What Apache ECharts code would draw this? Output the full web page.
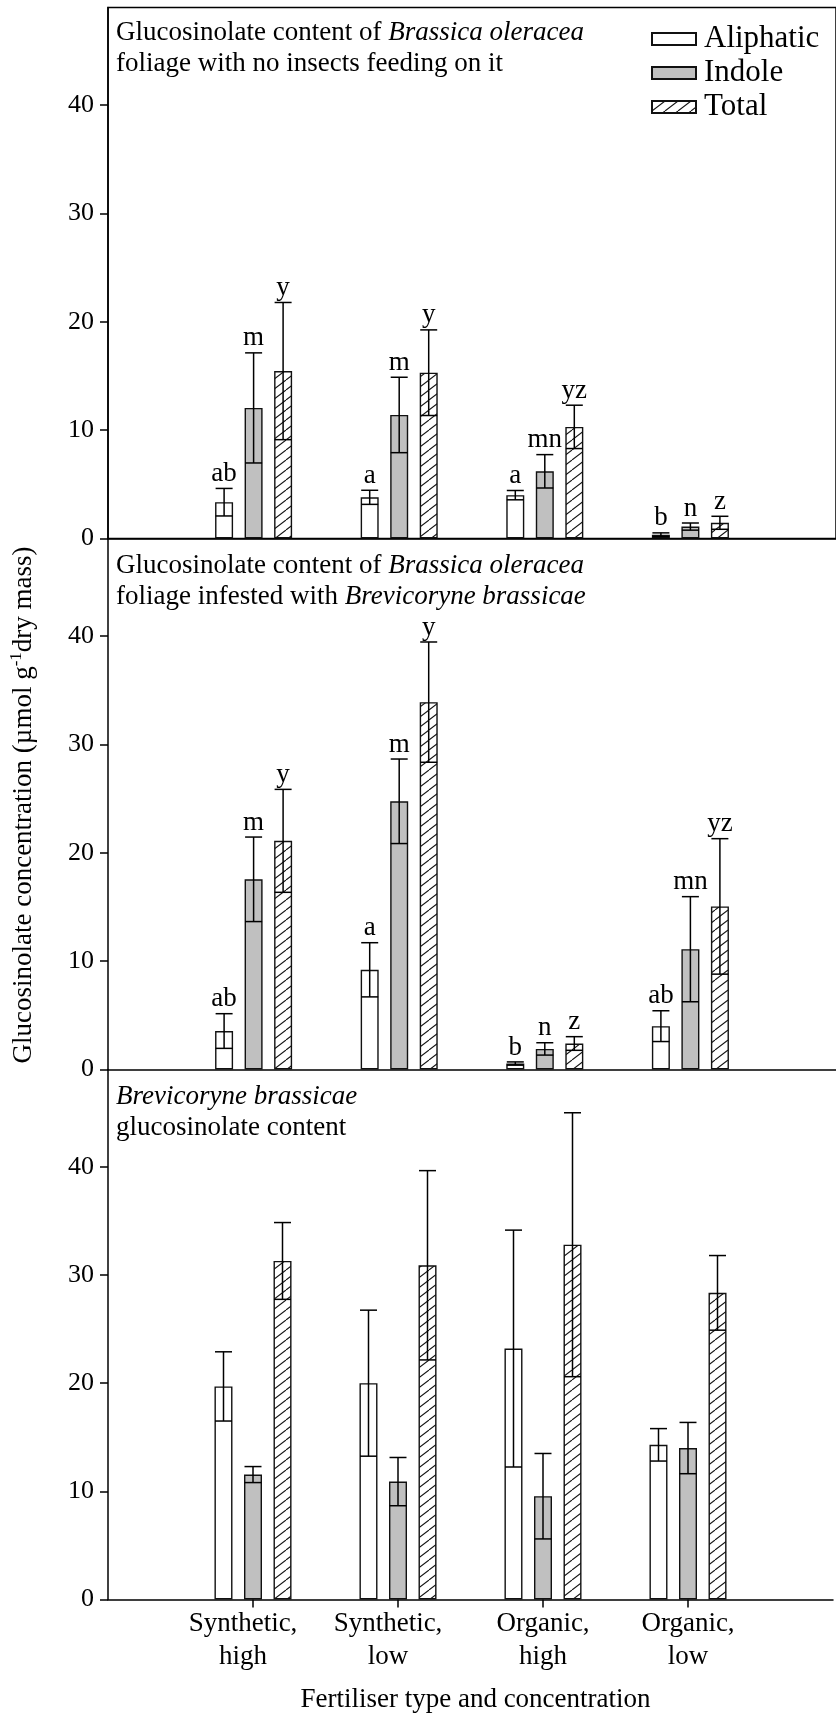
<!DOCTYPE html>
<html>
<head>
<meta charset="utf-8">
<script src="https://cdn.jsdelivr.net/npm/echarts@6.0.0/dist/echarts.min.js"></script>
<style>
  html, body { margin: 0; padding: 0; background: #fff; }
  #chart { width: 836px; height: 1717px; }
</style>
</head>
<body>
<div id="chart"></div>
<script>
// categories and tick labels
const categories = ['Synthetic,\nhigh', 'Synthetic,\nlow', 'Organic,\nhigh', 'Organic,\nlow']
const yTicks = [0, 10, 20, 30, 40]
const typeNames = ['Aliphatic', 'Indole', 'Total']

// panel 1: foliage with no insects
const noInsectAliphatic = [3.35, 3.8, 4.0, 0.35]
const noInsectAliphaticErr = [1.27, 0.65, 0.43, 0.17]
const noInsectIndole = [12.05, 11.4, 6.2, 1.1]
const noInsectIndoleErr = [5.08, 3.48, 1.54, 0.33]
const noInsectTotal = [15.45, 15.3, 10.3, 1.45]
const noInsectTotalErr = [6.33, 3.95, 2.0, 0.6]
const noInsectAliphaticLetters = ['ab', 'a', 'a', 'b']
const noInsectIndoleLetters = ['m', 'm', 'mn', 'n']
const noInsectTotalLetters = ['y', 'y', 'yz', 'z']

// panel 2: foliage infested with B. brassicae
const infestedAliphatic = [3.55, 9.2, 0.55, 4.0]
const infestedAliphaticErr = [1.6, 2.5, 0.15, 1.42]
const infestedIndole = [17.55, 24.75, 1.9, 11.1]
const infestedIndoleErr = [3.9, 3.9, 0.57, 4.85]
const infestedTotal = [21.1, 33.9, 2.4, 15.05]
const infestedTotalErr = [4.75, 5.55, 0.63, 6.25]
const infestedAliphaticLetters = ['ab', 'a', 'b', 'ab']
const infestedIndoleLetters = ['m', 'm', 'n', 'mn']
const infestedTotalLetters = ['y', 'y', 'z', 'yz']

// panel 3: B. brassicae glucosinolate content
const aphidAliphatic = [19.7, 20.0, 23.2, 14.3]
const aphidAliphaticErr = [3.2, 6.75, 10.95, 1.5]
const aphidIndole = [11.55, 10.9, 9.55, 14.0]
const aphidIndoleErr = [0.74, 2.23, 3.95, 2.37]
const aphidTotal = [31.3, 30.9, 32.8, 28.35]
const aphidTotalErr = [3.55, 8.75, 12.2, 3.45]

const FONT = '"Liberation Serif", "Times New Roman", serif'

const panels = [
  {
    values: [noInsectAliphatic, noInsectIndole, noInsectTotal],
    errs: [noInsectAliphaticErr, noInsectIndoleErr, noInsectTotalErr],
    letters: [noInsectAliphaticLetters, noInsectIndoleLetters, noInsectTotalLetters]
  },
  {
    values: [infestedAliphatic, infestedIndole, infestedTotal],
    errs: [infestedAliphaticErr, infestedIndoleErr, infestedTotalErr],
    letters: [infestedAliphaticLetters, infestedIndoleLetters, infestedTotalLetters]
  },
  {
    values: [aphidAliphatic, aphidIndole, aphidTotal],
    errs: [aphidAliphaticErr, aphidIndoleErr, aphidTotalErr],
    letters: null
  }
]

// empty slots either side so the groups sit where SigmaPlot put them
const xCats = [''].concat(categories, [''])

function makeHatch() {
  const c = document.createElement('canvas')
  c.width = 13
  c.height = 10
  const ctx = c.getContext('2d')
  ctx.fillStyle = '#fff'
  ctx.fillRect(0, 0, 13, 10)
  ctx.strokeStyle = '#111'
  ctx.lineWidth = 1.1
  for (const dx of [-13, 0, 13]) {
    ctx.beginPath()
    ctx.moveTo(dx, 10)
    ctx.lineTo(dx + 13, 0)
    ctx.stroke()
  }
  return c
}

const fills = ['#ffffff', '#c0c0c0', { image: makeHatch(), repeat: 'repeat' }]
const offsets = [-29.5, 0, 29.5]

function makeErr(offset, letters) {
  return function(params, api) {
    const x = api.value(0)
    const v = api.value(1)
    const e = api.value(2)
    const hi = api.coord([x, v + e])
    const lo = api.coord([x, v - e])
    const cx = hi[0] + offset
    const ls = { stroke: '#000', lineWidth: 1.5 }
    const children = [
      { type: 'line', shape: { x1: cx, y1: hi[1], x2: cx, y2: lo[1] }, style: ls },
      { type: 'line', shape: { x1: cx - 8.5, y1: hi[1], x2: cx + 8.5, y2: hi[1] }, style: ls },
      { type: 'line', shape: { x1: cx - 8.5, y1: lo[1], x2: cx + 8.5, y2: lo[1] }, style: ls }
    ]
    if (letters) {
      children.push({
        type: 'text',
        x: cx,
        y: hi[1] - 1,
        style: {
          text: letters[params.dataIndex],
          fontFamily: FONT,
          fontSize: 27,
          fill: '#000',
          align: 'center',
          verticalAlign: 'bottom'
        }
      })
    }
    return { type: 'group', children: children }
  }
}

const gridTops = [7.5, 538.5, 1069.5]
const gridHeights = [531, 531, 530]

const grid = []
const xAxis = []
const yAxis = []
const series = []

panels.forEach(function(p, pi) {
  const bottom = pi === 2
  grid.push({
    left: 108,
    right: -9.5,
    top: gridTops[pi],
    height: gridHeights[pi],
    show: pi === 0,
    borderColor: '#000',
    borderWidth: 1.5
  })
  xAxis.push({
    type: 'category',
    gridIndex: pi,
    data: xCats,
    boundaryGap: false,
    axisLine: { lineStyle: { color: '#000', width: 1.5 } },
    axisTick: {
      show: bottom,
      length: 8,
      interval: function(i) { return i > 0 && i < xCats.length - 1 },
      lineStyle: { color: '#000', width: 1.5 }
    },
    axisLabel: {
      show: bottom,
      interval: 0,
      margin: 8,
      fontFamily: FONT,
      fontSize: 27,
      lineHeight: 33,
      color: '#000',
      // the "Synthetic" labels sit a little left of their ticks in the original
      formatter: function(v) {
        if (v.indexOf('Synthetic') === 0) {
          return v.split('\n').map(function(s) { return '{s|' + s + '}' }).join('\n')
        }
        return v
      },
      rich: { s: { fontFamily: FONT, fontSize: 27, lineHeight: 33, padding: [0, 20, 0, 0] } }
    },
    name: bottom ? 'Fertiliser type and concentration' : '',
    nameLocation: 'middle',
    nameGap: 87,
    nameTextStyle: { fontFamily: FONT, fontSize: 27, color: '#000', padding: [0, 0, 0, 10] },
    splitLine: { show: false }
  })
  yAxis.push({
    type: 'value',
    gridIndex: pi,
    min: 0,
    max: 49,
    interval: 10,
    axisLine: { show: true, lineStyle: { color: '#000', width: 1.5 } },
    axisTick: { show: true, length: 8, customValues: yTicks, lineStyle: { color: '#000', width: 1.5 } },
    axisLabel: { customValues: yTicks, margin: 14, fontFamily: FONT, fontSize: 26, color: '#000' },
    splitLine: { show: false }
  })
  p.values.forEach(function(vals, ti) {
    series.push({
      type: 'bar',
      name: typeNames[ti],
      xAxisIndex: pi,
      yAxisIndex: pi,
      barWidth: 18,
      barGap: '64%',
      silent: true,
      itemStyle: { color: fills[ti], borderColor: '#111', borderWidth: 1.4 },
      data: vals.map(function(v, i) { return [i + 1, v] })
    })
    series.push({
      type: 'custom',
      xAxisIndex: pi,
      yAxisIndex: pi,
      z: 5,
      silent: true,
      renderItem: makeErr(offsets[ti], p.letters ? p.letters[ti] : null),
      data: vals.map(function(v, i) { return [i + 1, v, p.errs[ti][i]] })
    })
  })
})

const titleStyle = function(text) {
  return {
    text: text,
    fontFamily: FONT,
    fontSize: 27,
    lineHeight: 31,
    fill: '#000',
    rich: { i: { fontFamily: FONT, fontSize: 27, lineHeight: 31, fontStyle: 'italic' } }
  }
}

const chart = echarts.init(document.getElementById('chart'))
chart.setOption({
  animation: false,
  backgroundColor: '#fff',
  grid: grid,
  xAxis: xAxis,
  yAxis: yAxis,
  legend: {
    data: typeNames,
    orient: 'vertical',
    left: 646,
    top: 18.5,
    itemWidth: 44,
    itemHeight: 12,
    itemGap: 3,
    icon: 'rect',
    selectedMode: false,
    textStyle: { fontFamily: FONT, fontSize: 31, color: '#000', padding: [0, 0, 0, 3] }
  },
  graphic: [
    {
      type: 'text', x: 116, y: 17.5,
      style: titleStyle('Glucosinolate content of {i|Brassica oleracea}\nfoliage with no insects feeding on it')
    },
    {
      type: 'text', x: 116, y: 550,
      style: titleStyle('Glucosinolate content of {i|Brassica oleracea}\nfoliage infested with {i|Brevicoryne brassicae}')
    },
    {
      type: 'text', x: 116, y: 1081.5,
      style: titleStyle('{i|Brevicoryne brassicae}\nglucosinolate content')
    },
    {
      type: 'text', x: 24, y: 805, rotation: Math.PI / 2,
      style: {
        text: 'Glucosinolate concentration (\u00b5mol g{sup|-1}dry mass)',
        fontFamily: FONT,
        fontSize: 27,
        fill: '#000',
        align: 'center',
        verticalAlign: 'middle',
        rich: { sup: { fontFamily: FONT, fontSize: 17, padding: [0, 0, 14, 0] } }
      }
    }
  ],
  series: series
})
</script>
</body>
</html>
